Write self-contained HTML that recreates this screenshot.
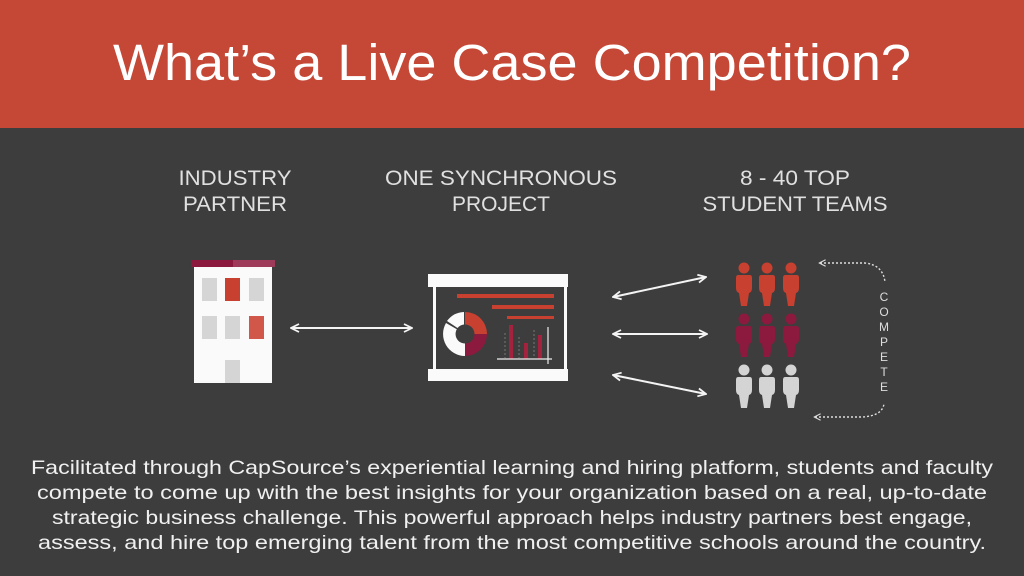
<!DOCTYPE html>
<html><head><meta charset="utf-8"><style>
html,body{margin:0;padding:0;background:#3d3d3d;}
svg{display:block;font-family:"Liberation Sans",sans-serif;}
</style></head><body>
<svg width="1024" height="576" viewBox="0 0 1024 576" xmlns="http://www.w3.org/2000/svg">
<defs>
<marker id="ah" viewBox="0 0 10 10" refX="9" refY="5" markerWidth="10" markerHeight="10" orient="auto-start-reverse" markerUnits="userSpaceOnUse">
<path d="M1,1 L9,5 L1,9" fill="none" stroke="#f4f4f4" stroke-width="1.8"/></marker>
<marker id="ad" viewBox="0 0 10 10" refX="2" refY="5" markerWidth="8" markerHeight="8" orient="auto" markerUnits="userSpaceOnUse">
<path d="M9,1 L1,5 L9,9" fill="none" stroke="#ddd" stroke-width="1.4"/></marker>
</defs>
<rect width="1024" height="576" fill="#3d3d3d"/>
<rect width="1024" height="128" fill="#c54736"/>
<text x="512" y="80" text-anchor="middle" font-size="51" fill="#fff" textLength="798" lengthAdjust="spacingAndGlyphs">What’s a Live Case Competition?</text>
<g fill="#e0e0e0" font-size="21" text-anchor="middle">
<text x="235" y="185" textLength="113" lengthAdjust="spacingAndGlyphs">INDUSTRY</text>
<text x="235" y="211" textLength="104" lengthAdjust="spacingAndGlyphs">PARTNER</text>
<text x="501" y="185" textLength="232" lengthAdjust="spacingAndGlyphs">ONE SYNCHRONOUS</text>
<text x="501" y="211" textLength="98" lengthAdjust="spacingAndGlyphs">PROJECT</text>
<text x="795" y="185" textLength="110" lengthAdjust="spacingAndGlyphs">8 - 40 TOP</text>
<text x="795" y="211" textLength="185" lengthAdjust="spacingAndGlyphs">STUDENT TEAMS</text>
</g>
<!-- building -->
<rect x="191" y="260" width="42" height="7" fill="#8b1a3e"/>
<rect x="233" y="260" width="42" height="7" fill="#9e3a5a"/>
<rect x="194" y="267" width="78" height="116" fill="#fafafa"/>
<g fill="#d5d5d5">
<rect x="202" y="278" width="15" height="23"/><rect x="249" y="278" width="15" height="23"/>
<rect x="202" y="316" width="15" height="23"/><rect x="225" y="316" width="15" height="23"/>
<rect x="225" y="360" width="15" height="23"/>
</g>
<rect x="225" y="278" width="15" height="23" fill="#c8402f"/>
<rect x="249" y="316" width="15" height="23" fill="#d0574a"/>
<!-- arrows -->
<g stroke="#f4f4f4" stroke-width="2" fill="none" marker-start="url(#ah)" marker-end="url(#ah)">
<line x1="291" y1="328" x2="412" y2="328"/>
<line x1="613" y1="297" x2="706" y2="277"/>
<line x1="613" y1="334" x2="707" y2="334"/>
<line x1="613" y1="375" x2="706" y2="394"/>
</g>
<!-- board -->
<rect x="428" y="274" width="140" height="13" fill="#fafafa"/>
<rect x="428" y="369" width="140" height="12" fill="#fafafa"/>
<rect x="433" y="287" width="3" height="82" fill="#fafafa"/>
<rect x="564" y="287" width="3" height="82" fill="#fafafa"/>
<g fill="#c8402f">
<rect x="457" y="294" width="97" height="4"/><rect x="492" y="305" width="62" height="4"/><rect x="507" y="316" width="47" height="3"/>
</g>
<g transform="translate(465,334)">
<path d="M0,-22 A22,22 0 0 1 22,0 L9.5,0 A9.5,9.5 0 0 0 0,-9.5 Z" fill="#c8402f"/>
<path d="M22,0 A22,22 0 0 1 0,22 L0,9.5 A9.5,9.5 0 0 0 9.5,0 Z" fill="#8b1a3e"/>
<path d="M0,22 A22,22 0 0 1 -19,-11 L-8.2,-4.7 A9.5,9.5 0 0 0 0,9.5 Z" fill="#fafafa"/>
<path d="M-18,-13 A22,22 0 0 1 -1,-22 L-1,-9.5 A9.5,9.5 0 0 0 -7.5,-6 Z" fill="#fafafa"/>
</g>
<g stroke="#777" stroke-width="1" stroke-dasharray="2,2"><line x1="505" y1="333" x2="505" y2="358"/><line x1="519" y1="337" x2="519" y2="358"/><line x1="534" y1="330" x2="534" y2="358"/></g>
<g fill="#a3233f"><rect x="509" y="325" width="4" height="34"/><rect x="524" y="343" width="4" height="16"/><rect x="538" y="335" width="4" height="24"/></g>
<line x1="497" y1="359" x2="552" y2="359" stroke="#eee" stroke-width="1.2"/>
<line x1="548" y1="327" x2="548" y2="364" stroke="#eee" stroke-width="1.2"/>
<!-- people -->
<defs><g id="p"><circle cx="0" cy="0" r="5.5"/><path d="M-6,7 H6 Q8,7 8,10 V20 Q8,24 5,25 L3,38 H-3 L-5,25 Q-8,24 -8,20 V10 Q-8,7 -6,7 Z"/></g></defs>
<g fill="#c8402f"><use href="#p" x="744" y="268"/><use href="#p" x="767" y="268"/><use href="#p" x="791" y="268"/></g>
<g fill="#8b1a3e"><use href="#p" x="744" y="319"/><use href="#p" x="767" y="319"/><use href="#p" x="791" y="319"/></g>
<g fill="#d4d4d4"><use href="#p" x="744" y="370"/><use href="#p" x="767" y="370"/><use href="#p" x="791" y="370"/></g>
<!-- compete -->
<g stroke="#ddd" stroke-width="1.4" stroke-dasharray="2,2" fill="none">
<path d="M820,263 L865,263 Q883,265 885,282" marker-start="url(#ad)"/>
<path d="M815,417 L862,417 Q882,416 884,404" marker-start="url(#ad)"/>
</g>
<g fill="#ddd" font-size="12" text-anchor="middle">
<text x="884" y="301">C</text><text x="884" y="316">O</text><text x="884" y="331">M</text><text x="884" y="346">P</text><text x="884" y="361">E</text><text x="884" y="376">T</text><text x="884" y="391">E</text>
</g>
<!-- body text -->
<g fill="#f0f0f0" font-size="19.5" text-anchor="middle">
<text x="512" y="474" textLength="962" lengthAdjust="spacingAndGlyphs">Facilitated through CapSource’s experiential learning and hiring platform, students and faculty</text>
<text x="512" y="499" textLength="950" lengthAdjust="spacingAndGlyphs">compete to come up with the best insights for your organization based on a real, up-to-date</text>
<text x="512" y="524" textLength="920" lengthAdjust="spacingAndGlyphs">strategic business challenge. This powerful approach helps industry partners best engage,</text>
<text x="512" y="549" textLength="948" lengthAdjust="spacingAndGlyphs">assess, and hire top emerging talent from the most competitive schools around the country.</text>
</g>
</svg>
</body></html>
